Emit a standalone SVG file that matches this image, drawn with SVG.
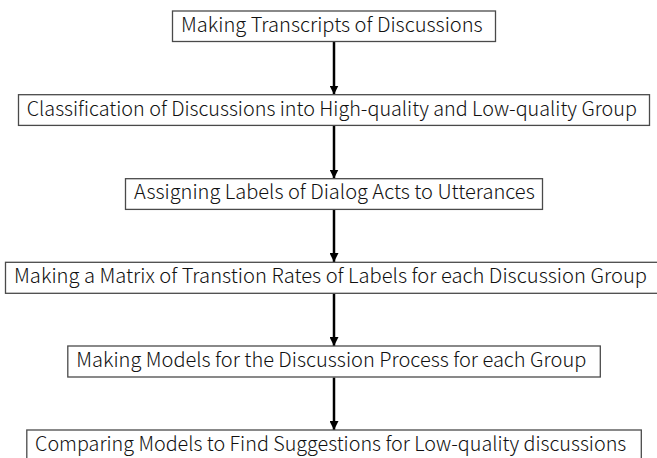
<svg xmlns="http://www.w3.org/2000/svg" width="657" height="458" viewBox="0 0 657 458">
<style>
.box{fill:#fff;stroke:#4a4a4a;stroke-width:1.3}
.lbl{font-family:"Noto Sans CJK JP","Noto Sans",sans-serif;font-size:19.5px;font-weight:300;fill:#111}
.conn{stroke:#000;stroke-width:2.5;fill:none}
</style>
<defs>
<marker id="ah" viewBox="0 0 10 10" refX="10" refY="5" markerUnits="userSpaceOnUse" markerWidth="9" markerHeight="9" orient="auto">
<path d="M0,0 L10,5 L0,10 z" fill="#000"/>
</marker>
</defs>
<rect width="657" height="458" fill="#fff"/>
<g id="connectors">
<line class="conn" x1="334" y1="41.5" x2="334" y2="94.5" marker-end="url(#ah)"/>
<line class="conn" x1="334" y1="125.5" x2="334" y2="178.5" marker-end="url(#ah)"/>
<line class="conn" x1="334" y1="209.5" x2="334" y2="262" marker-end="url(#ah)"/>
<line class="conn" x1="334" y1="293.5" x2="334" y2="346" marker-end="url(#ah)"/>
<line class="conn" x1="334" y1="377.5" x2="334" y2="430" marker-end="url(#ah)"/>
</g>
<g id="n1">
<rect class="box" x="172.5" y="11" width="323" height="30.5"/>
<text class="lbl" x="181" y="31.7" textLength="301.7" lengthAdjust="spacingAndGlyphs">Making Transcripts of Discussions</text>
</g>
<g id="n2">
<rect class="box" x="18.5" y="94.7" width="631" height="30.7"/>
<text class="lbl" x="26.7" y="116" textLength="610.3" lengthAdjust="spacingAndGlyphs">Classification of Discussions into High-quality and Low-quality Group</text>
</g>
<g id="n3">
<rect class="box" x="125.5" y="178.7" width="417" height="30.7"/>
<text class="lbl" x="134" y="199.3" textLength="400.7" lengthAdjust="spacingAndGlyphs">Assigning Labels of Dialog Acts to Utterances</text>
</g>
<g id="n4">
<rect class="box" x="5.5" y="262.3" width="658" height="31"/>
<text class="lbl" x="14" y="283.3" textLength="633" lengthAdjust="spacingAndGlyphs">Making a Matrix of Transtion Rates of Labels for each Discussion Group</text>
</g>
<g id="n5">
<rect class="box" x="67.8" y="346" width="532.5" height="31"/>
<text class="lbl" x="76.3" y="367.3" textLength="510" lengthAdjust="spacingAndGlyphs">Making Models for the Discussion Process for each Group</text>
</g>
<g id="n6">
<rect class="box" x="26.8" y="430" width="614.5" height="31"/>
<text class="lbl" x="35" y="451" textLength="591.3" lengthAdjust="spacingAndGlyphs">Comparing Models to Find Suggestions for Low-quality discussions</text>
</g>
</svg>
